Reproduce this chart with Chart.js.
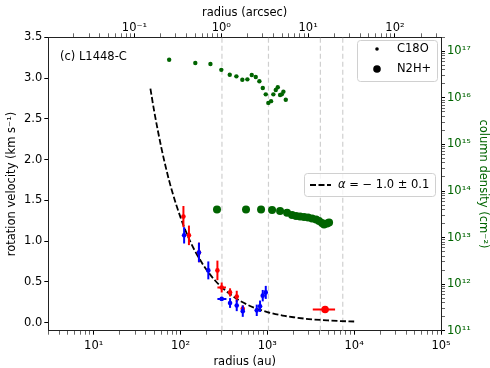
<!DOCTYPE html>
<html>
<head>
<meta charset="utf-8">
<script src="https://cdn.jsdelivr.net/npm/chart.js@4/dist/chart.umd.min.js"></script>
<style>
  html, body { margin: 0; padding: 0; background: #fff; }
</style>
</head>
<body>
<canvas id="chart" width="490" height="368"></canvas>
<script>
// rotation velocity, red-shifted side (au, km/s)
var redRadius   = [108, 125, 163, 266, 298, 372, 444, 521, 4624];
var redVel      = [1.30, 1.07, 0.86, 0.64, 0.43, 0.37, 0.32, 0.17, 0.16];
var redVelErr   = [0.13, 0.12, 0.12, 0.12, 0.06, 0.05, 0.07, 0.04, 0.03];
var redRadiusLo = [null, null, null, null, 266, null, null, null, 3336];
var redRadiusHi = [null, null, null, null, 334, null, null, null, 6026];

// rotation velocity, blue-shifted side
var blueRadius   = [110, 163, 209, 298, 372, 444, 521, 755, 824, 885, 959];
var blueVel      = [1.07, 0.86, 0.64, 0.29, 0.24, 0.21, 0.14, 0.15, 0.20, 0.33, 0.37];
var blueVelErr   = [0.10, 0.12, 0.11, 0.02, 0.06, 0.07, 0.07, 0.07, 0.07, 0.07, 0.08];
var blueRadiusLo = [null, null, null, 266, null, null, null, null, null, null, null];
var blueRadiusHi = [null, null, null, 338, null, null, null, null, null, null, null];

// power-law fit
var fitRadius = [45, 50, 60, 70, 80, 100, 125, 150, 200, 250, 300, 400, 500, 700, 1000, 1500, 2000, 3000, 5000, 7000, 10000];
var fitVel    = [2.87, 2.58, 2.15, 1.84, 1.61, 1.29, 1.03, 0.86, 0.645, 0.516, 0.43, 0.323, 0.258, 0.184, 0.129, 0.086, 0.065, 0.043, 0.026, 0.018, 0.013];

// column densities (cm^-2)
var c18oRadius  = [74, 148, 221, 295, 369, 440, 515, 589, 661, 735, 809, 886, 959, 1027, 1104, 1173, 1250, 1318, 1401, 1466, 1530, 1630];
var c18oColDens = [6.6e16, 5.6e16, 5.35e16, 4.0e16, 3.15e16, 2.9e16, 2.46e16, 2.5e16, 3.1e16, 2.8e16, 2.28e16, 1.63e16, 1.19e16, 7.8e15, 8.5e15, 1.19e16, 1.48e16, 1.69e16, 1.15e16, 1.19e16, 1.36e16, 9.1e15];
var n2hRadius   = [263, 568, 846, 1133, 1401, 1687, 1926, 2141, 2381, 2648, 2944, 3273, 3640, 3940, 4268, 4500, 4874, 5138];
var n2hColDens  = [4.0e13, 4.0e13, 4.0e13, 3.9e13, 3.7e13, 3.4e13, 3.05e13, 2.9e13, 2.84e13, 2.77e13, 2.7e13, 2.57e13, 2.45e13, 2.27e13, 2.06e13, 1.91e13, 2.01e13, 2.11e13];

// dashed vertical reference radii (au)
var markRadii = [300, 1030, 4080, 7390];

// axes
var auPerArcsec = 295;
var radiusRange = [3, 1e5];
var velRange = [-0.1, 3.5];
var colRange = [1e11, 2e17];
var velTicks = [0, 0.5, 1.0, 1.5, 2.0, 2.5, 3.0, 3.5];

var green = '#006400';
var sup = {'-': '⁻', '0': '⁰', '1': '¹', '2': '²', '3': '³', '4': '⁴', '5': '⁵', '6': '⁶', '7': '⁷', '8': '⁸', '9': '⁹'};

function pow10Label(v) {
    var e = Math.round(Math.log10(v));
    return '10' + String(e).split('').map(function(c) { return sup[c]; }).join('');
}
function isPow10(v) {
    var l = Math.log10(v);
    return Math.abs(l - Math.round(l)) < 1e-9;
}
function logTicks(min, max) {
    var out = [];
    for (var e = Math.floor(Math.log10(min)) - 1; e <= Math.ceil(Math.log10(max)); e++) {
        for (var m = 1; m < 10; m++) {
            var v = m * Math.pow(10, e);
            v = parseFloat(v.toPrecision(6));
            if (v >= min * 0.9999 && v <= max * 1.0001) out.push({value: v, major: m === 1});
        }
    }
    return out;
}
function pts(xs, ys) {
    return xs.map(function(x, i) { return {x: x, y: ys[i]}; });
}
function errs(dy, lo, hi) {
    return dy.map(function(d, i) { return {dy: d, lo: lo[i], hi: hi[i]}; });
}

var FONT = 'DejaVu Sans';
Chart.defaults.font.family = FONT;
Chart.defaults.font.size = 11.5;
Chart.defaults.color = '#000';

var tickGrid = {
    drawOnChartArea: false,
    drawTicks: true,
    tickLength: 4,
    tickColor: '#000',
    tickWidth: function(c) { return c.tick && c.tick.major === false ? 0.6 : 1; }
};
var border = {display: true, color: '#222', width: 1};

var datasets = [
    {   // N2H+
        data: pts(n2hRadius, n2hColDens), yAxisID: 'y2', showLine: false,
        pointRadius: 4, pointBackgroundColor: green, pointBorderWidth: 0, backgroundColor: green
    },
    {   // C18O
        data: pts(c18oRadius, c18oColDens), yAxisID: 'y2', showLine: false,
        pointRadius: 2.2, pointBackgroundColor: green, pointBorderWidth: 0, backgroundColor: green
    },
    {
        data: pts(blueRadius, blueVel), yAxisID: 'y', showLine: false,
        errors: errs(blueVelErr, blueRadiusLo, blueRadiusHi),
        pointRadius: 2.3, pointBackgroundColor: '#0000ff', pointBorderWidth: 0, backgroundColor: '#0000ff'
    },
    {
        data: pts(redRadius, redVel), yAxisID: 'y', showLine: false,
        errors: errs(redVelErr, redRadiusLo, redRadiusHi),
        pointRadius: redRadius.map(function(r) { return r > 2000 ? 3.8 : 2.3; }),
        pointBackgroundColor: '#ff0000', pointBorderWidth: 0, backgroundColor: '#ff0000'
    },
    {
        data: pts(fitRadius, fitVel), yAxisID: 'y', showLine: true,
        borderColor: '#000', borderWidth: 1.8, borderDash: [6, 2.5],
        cubicInterpolationMode: 'monotone', pointRadius: 0, fill: false
    }
];
markRadii.forEach(function(r) {
    datasets.push({
        data: [{x: r, y: velRange[0]}, {x: r, y: velRange[1]}], yAxisID: 'y', showLine: true,
        borderColor: '#cfcfcf', borderWidth: 1.2, borderDash: [5, 3], pointRadius: 0, fill: false
    });
});

// matplotlib-style error bars, drawn under each dataset's markers
var errorBars = {
    id: 'errorBars',
    beforeDatasetDraw: function(chart, args) {
        var ds = chart.data.datasets[args.index];
        if (!ds.errors) return;
        var xs = chart.scales.x, ys = chart.scales.y, ctx = chart.ctx;
        ctx.save();
        ctx.strokeStyle = ds.backgroundColor;
        ctx.lineWidth = 2;
        ds.data.forEach(function(p, i) {
            var e = ds.errors[i];
            var px = xs.getPixelForValue(p.x), py = ys.getPixelForValue(p.y);
            ctx.beginPath();
            if (e.dy) {
                ctx.moveTo(px, ys.getPixelForValue(p.y - e.dy));
                ctx.lineTo(px, ys.getPixelForValue(p.y + e.dy));
            }
            if (e.lo) {
                ctx.moveTo(xs.getPixelForValue(e.lo), py);
                ctx.lineTo(xs.getPixelForValue(e.hi), py);
            }
            ctx.stroke();
        });
        ctx.restore();
    }
};

function roundBox(ctx, x0, y0, x1, y1) {
    ctx.beginPath();
    ctx.roundRect(x0, y0, x1 - x0, y1 - y0, 3);
    ctx.fillStyle = 'rgba(255,255,255,0.8)';
    ctx.fill();
    ctx.strokeStyle = '#d0d0d0';
    ctx.lineWidth = 1;
    ctx.stroke();
}

var legends = {
    id: 'legends',
    afterDraw: function(chart) {
        var ctx = chart.ctx;
        ctx.save();
        ctx.font = '11.5px "' + FONT + '"';
        ctx.textBaseline = 'middle';
        ctx.fillStyle = '#000';
        ctx.fillText('(c) L1448-C', 60, 57);

        // fit legend
        roundBox(ctx, 304.5, 173.5, 435.5, 196.5);
        ctx.beginPath();
        ctx.setLineDash([6, 2.5]);
        ctx.strokeStyle = '#000';
        ctx.lineWidth = 1.8;
        ctx.moveTo(310, 185); ctx.lineTo(331, 185);
        ctx.stroke();
        ctx.setLineDash([]);
        ctx.fillStyle = '#000';
        ctx.font = 'italic 11.5px "' + FONT + '"';
        ctx.fillText('α', 338, 185);
        var w = ctx.measureText('α').width;
        ctx.font = '11.5px "' + FONT + '"';
        ctx.fillText(' = − 1.0 ± 0.1', 338 + w, 185);

        // tracer legend
        roundBox(ctx, 357.5, 40.5, 437.5, 81.5);
        ctx.fillStyle = '#000';
        ctx.beginPath(); ctx.arc(377, 49, 1.8, 0, Math.PI * 2); ctx.fill();
        ctx.beginPath(); ctx.arc(377, 69, 3.8, 0, Math.PI * 2); ctx.fill();
        ctx.fillText('C18O', 397, 49);
        ctx.fillText('N2H+', 397, 69);
        ctx.restore();
    }
};

function fixTicks(list) {
    return function(scale) { scale.ticks = list; };
}

new Chart(document.getElementById('chart').getContext('2d'), {
    type: 'scatter',
    data: {datasets: datasets},
    options: {
        responsive: false,
        animation: false,
        layout: {padding: 0},
        plugins: {legend: {display: false}, tooltip: {enabled: false}},
        scales: {
            x: {
                type: 'logarithmic', position: 'bottom',
                min: radiusRange[0], max: radiusRange[1],
                afterBuildTicks: fixTicks(logTicks(radiusRange[0], radiusRange[1])),
                afterFit: function(s) { s.height = 37.3; },
                ticks: {autoSkip: false, maxRotation: 0, padding: 4,
                        callback: function(v) { return isPow10(v) ? pow10Label(v) : ''; }},
                grid: tickGrid, border: border,
                title: {display: true, text: 'radius (au)', padding: {top: 0, bottom: -1}}
            },
            x2: {
                type: 'logarithmic', position: 'top',
                min: radiusRange[0] / auPerArcsec, max: radiusRange[1] / auPerArcsec,
                afterBuildTicks: fixTicks(logTicks(radiusRange[0] / auPerArcsec, radiusRange[1] / auPerArcsec)),
                afterFit: function(s) { s.height = 37.3; },
                ticks: {autoSkip: false, maxRotation: 0, padding: -2,
                        callback: function(v) { return isPow10(v) ? pow10Label(v) : ''; }},
                grid: tickGrid, border: border,
                title: {display: true, text: 'radius (arcsec)', padding: {top: 6, bottom: 0}}
            },
            y: {
                type: 'linear', position: 'left',
                min: velRange[0], max: velRange[1],
                afterBuildTicks: fixTicks(velTicks.map(function(v) { return {value: v, major: true}; })),
                afterFit: function(s) { s.width = 48.3; },
                ticks: {autoSkip: false, padding: 2,
                        callback: function(v) { return v.toFixed(1); }},
                grid: tickGrid, border: border,
                title: {display: true, text: 'rotation velocity (km s⁻¹)', padding: {top: 5, bottom: 0}}
            },
            y2: {
                type: 'logarithmic', position: 'right',
                min: colRange[0], max: colRange[1],
                afterBuildTicks: fixTicks(logTicks(colRange[0], colRange[1])),
                afterFit: function(s) { s.width = 49; },
                ticks: {autoSkip: false, padding: 2, color: green,
                        callback: function(v) { return isPow10(v) ? pow10Label(v) : ''; }},
                grid: tickGrid, border: border,
                title: {display: true, text: 'column density (cm⁻²)', color: green, padding: {top: 0, bottom: 0}}
            }
        }
    },
    plugins: [errorBars, legends]
});
</script>
</body>
</html>
